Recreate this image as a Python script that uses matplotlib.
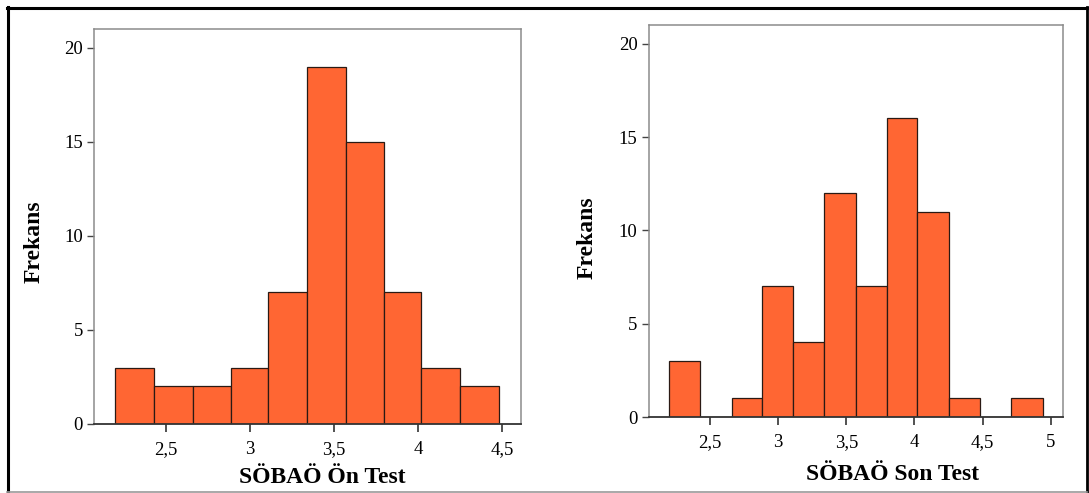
import numpy as np
import matplotlib.pyplot as plt
from matplotlib.lines import Line2D

plt.rcParams['font.family'] = ['Liberation Serif', 'DejaVu Serif']

# SÖBAÖ Ön Test histogram (bin kenarları ve frekanslar)
kenarlarOn = [2.20, 2.43, 2.66, 2.89, 3.11, 3.34, 3.57, 3.80, 4.02, 4.25, 4.48]
frekansOn = [3, 2, 2, 3, 7, 19, 15, 7, 3, 2]

# SÖBAÖ Son Test histogram
kenarlarSon = [2.20, 2.43, 2.66, 2.88, 3.11, 3.34, 3.57, 3.80, 4.02, 4.25, 4.48, 4.71, 4.94]
frekansSon = [3, 0, 1, 7, 4, 12, 7, 16, 11, 1, 0, 1]

ticksOn = [2.5, 3, 3.5, 4, 4.5]
etiketOn = ['2,5', '3', '3,5', '4', '4,5']
ticksSon = [2.5, 3, 3.5, 4, 4.5, 5]
etiketSon = ['2,5', '3', '3,5', '4', '4,5', '5']
yTicks = [0, 5, 10, 15, 20]

renk = '#FF6633'

fig = plt.figure(figsize=(10.89, 4.93), dpi=100)
W, H = 1089, 493

def panel(rect_px, kenarlar, frekans, ticks, etiketler, xlim, xlabel, xlab_pos, ylab_pos):
    x0, y0, x1, y1 = rect_px
    ax = fig.add_axes([x0 / W, 1 - y1 / H, (x1 - x0) / W, (y1 - y0) / H])
    k = np.array(kenarlar)
    ax.bar(k[:-1], frekans, width=np.diff(k), align='edge', color=renk,
           edgecolor='#2a1a14', linewidth=0.9)
    ax.set_xlim(*xlim)
    ax.set_ylim(0, 21)
    ax.set_xticks(ticks)
    ax.set_xticklabels(etiketler)
    ax.set_yticks(yTicks)
    for s in ['top', 'right', 'left']:
        ax.spines[s].set_color('#8c8c8c')
        ax.spines[s].set_linewidth(1.1)
    ax.spines['bottom'].set_color('#333333')
    ax.spines['bottom'].set_linewidth(1.3)
    ax.tick_params(axis='y', length=5, width=1, color='#444444', pad=3, labelsize=13.5)
    ax.tick_params(axis='x', length=6, width=1.2, color='#333333', pad=6, labelsize=13.5)
    ax.set_xlabel(xlabel, fontsize=17, fontweight='bold')
    ax.set_ylabel('Frekans', fontsize=17, fontweight='bold')
    ax.xaxis.set_label_coords(*xlab_pos)
    ax.yaxis.set_label_coords(*ylab_pos)
    return ax

panel((94, 29, 521, 424), kenarlarOn, frekansOn, ticksOn, etiketOn,
      (2.073, 4.613), 'SÖBAÖ Ön Test', (0.534, -0.108), (-0.116, 0.4625))
panel((648.7, 25, 1063.3, 417), kenarlarSon, frekansSon, ticksSon, etiketSon,
      (2.051, 5.092), 'SÖBAÖ Son Test', (0.589, -0.12), (-0.124, 0.458))

# dış çerçeve
def cizgi(xs, ys, c, lw):
    fig.add_artist(Line2D([x / W for x in xs], [1 - y / H for y in ys],
                          color=c, linewidth=lw, transform=fig.transFigure))

cizgi([7, 1086.5], [7.5, 7.5], 'black', 2.2)
cizgi([7.5, 7.5], [7, 492], 'black', 2.2)
cizgi([1086.5, 1086.5], [7, 492], 'black', 2.0)
cizgi([7, 1086.5], [491.5, 491.5], '#9a9a9a', 1.2)

fig.savefig('out.png', dpi=100)
